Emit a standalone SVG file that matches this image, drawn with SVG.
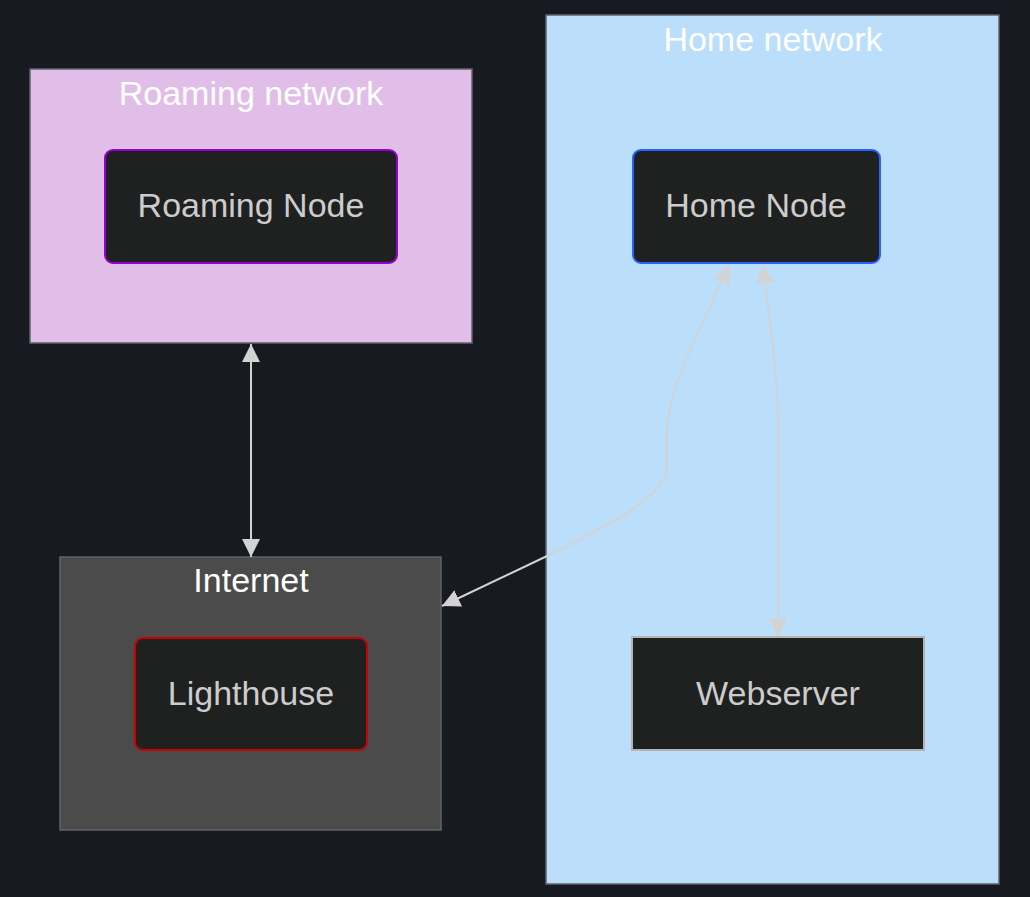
<svg xmlns="http://www.w3.org/2000/svg" width="1030" height="897" viewBox="0 0 1030 897">
<defs>
<style>
.cluster{stroke:#5f636b;stroke-width:1.5}
.ctitle{font-family:"Liberation Sans",Arial,sans-serif;font-size:34px;fill:#ffffff;text-anchor:middle}
.node{fill:#1f2020;stroke-width:2}
.nlabel{font-family:"Liberation Sans",Arial,sans-serif;font-size:34px;fill:#cccccc;text-anchor:middle}
.edge{fill:none;stroke:#d3d3d3;stroke-width:2}
</style>
<marker id="arr" viewBox="0 0 10 10" refX="10" refY="5" markerUnits="userSpaceOnUse" markerWidth="18" markerHeight="18" orient="auto-start-reverse">
<path d="M0,0 L10,5 L0,10 z" fill="#d3d3d3"/>
</marker>
</defs>
<rect width="1030" height="897" fill="#181a22"/>
<g id="roaming-network">
<rect class="cluster" x="30" y="69" width="442" height="274" fill="#e1bee7"/>
<text class="ctitle" x="251" y="105">Roaming network</text>
</g>
<g id="home-network">
<rect class="cluster" x="546" y="15" width="453" height="869" fill="#bbdefb"/>
<text class="ctitle" x="773" y="51">Home network</text>
</g>
<g id="internet">
<rect class="cluster" x="60" y="557" width="381" height="273" fill="#4a4b4a"/>
<text class="ctitle" x="251" y="592">Internet</text>
</g>
<g id="connectors">
<path class="edge" d="M251,344 L251,557" marker-start="url(#arr)" marker-end="url(#arr)"/>
<path class="edge" d="M442,606 L545,557 C620,520 667,495 667,465 L667,430 C667,390 700,330 729,265" marker-start="url(#arr)" marker-end="url(#arr)"/>
<path class="edge" d="M763,265 C770,320 778,380 778,420 L778,637" marker-start="url(#arr)" marker-end="url(#arr)"/>
</g>
<g id="roaming-node">
<rect class="node" x="105" y="150" width="292" height="113" rx="8" stroke="#9400d3"/>
<text class="nlabel" x="251" y="217">Roaming Node</text>
</g>
<g id="home-node">
<rect class="node" x="633" y="150" width="247" height="113" rx="8" stroke="#2962ff"/>
<text class="nlabel" x="756" y="217">Home Node</text>
</g>
<g id="lighthouse">
<rect class="node" x="135" y="638" width="232" height="112" rx="8" stroke="#cc0000"/>
<text class="nlabel" x="251" y="705">Lighthouse</text>
</g>
<g id="webserver">
<rect class="node" x="632" y="637" width="292" height="113" stroke="#b4b4b4"/>
<text class="nlabel" x="778" y="705">Webserver</text>
</g>
</svg>
